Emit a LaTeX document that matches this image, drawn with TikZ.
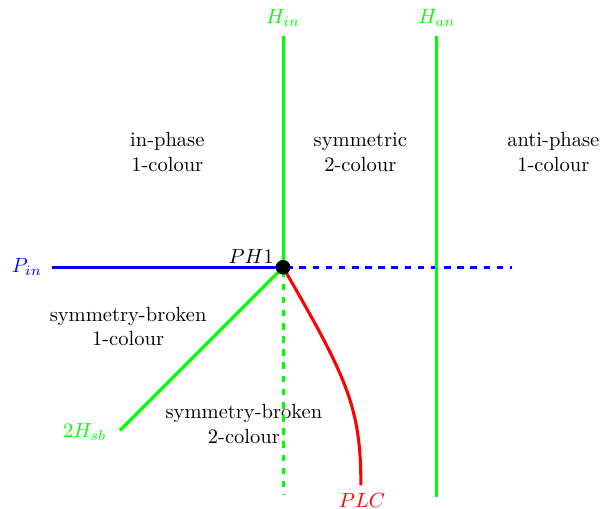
\documentclass[tikz,border=0pt]{standalone}
\usepackage{tikz}
\usetikzlibrary{positioning, calc}

\begin{document}
\begin{tikzpicture}[
    every node/.style={align=center},
    line/.style={line width=1.5pt},
    dline/.style={line width=1.5pt, dash pattern=on 3.2pt off 3.2pt, dash phase=-1.5pt},
    dot/.style={circle, fill=black, inner sep=0pt, minimum size=7pt}
]
\useasboundingbox (-4.84,-4.12) rectangle (5.64,4.57);
% crossing point
\node[dot] (ph1) at (0,0) {};
\node[anchor=south east, inner sep=1pt] (ph1lab) at (-0.12,0.02) {$PH1$};
% end points
\coordinate (pinend) at (-3.95,0);
\coordinate (pinfar) at (3.92,0);
\coordinate (hintop) at (0,3.95);
\coordinate (hinbot) at (0,-3.90);
\coordinate (hantop) at (2.63,3.95);
\coordinate (hanbot) at (2.63,-3.93);
\coordinate (sbend) at (-2.79,-2.79);
\coordinate (plcend) at (1.33,-3.73);
% labels
\node[text=blue] (pin) at (-4.38,0) {$P_{in}$};
\node[text=green] (hin) at (0,4.26) {$H_{in}$};
\node[text=green] (han) at (2.63,4.26) {$H_{an}$};
\node[text=green] (hsb) at (-3.39,-2.82) {$2H_{sb}$};
\node[text=red] (plc) at (1.35,-3.98) {$PLC$};
% regions
\node (inph) at (-1.98,1.97) {in-phase\\1-colour};
\node (sym) at (1.32,1.97) {symmetric\\2-colour};
\node (anti) at (4.62,1.97) {anti-phase\\1-colour};
\node (sb1) at (-2.65,-1.01) {symmetry-broken\\1-colour};
\node (sb2) at (-0.67,-2.68) {symmetry-broken\\2-colour};
% lines
\draw[line, blue] (pinend) -- (ph1.center);
\draw[dline, blue] (ph1.center) -- (pinfar);
\draw[line, green] (hintop) -- (ph1.center);
\draw[dline, green] (ph1.center) -- (hinbot);
\draw[line, green] (hantop) -- (hanbot);
\draw[line, green] (ph1.center) -- (sbend);
\draw[line, red] (ph1.center) .. controls (1.1,-1.9) and (1.33,-2.4) .. (plcend);
\node[dot] at (ph1) {};
\end{tikzpicture}
\end{document}
